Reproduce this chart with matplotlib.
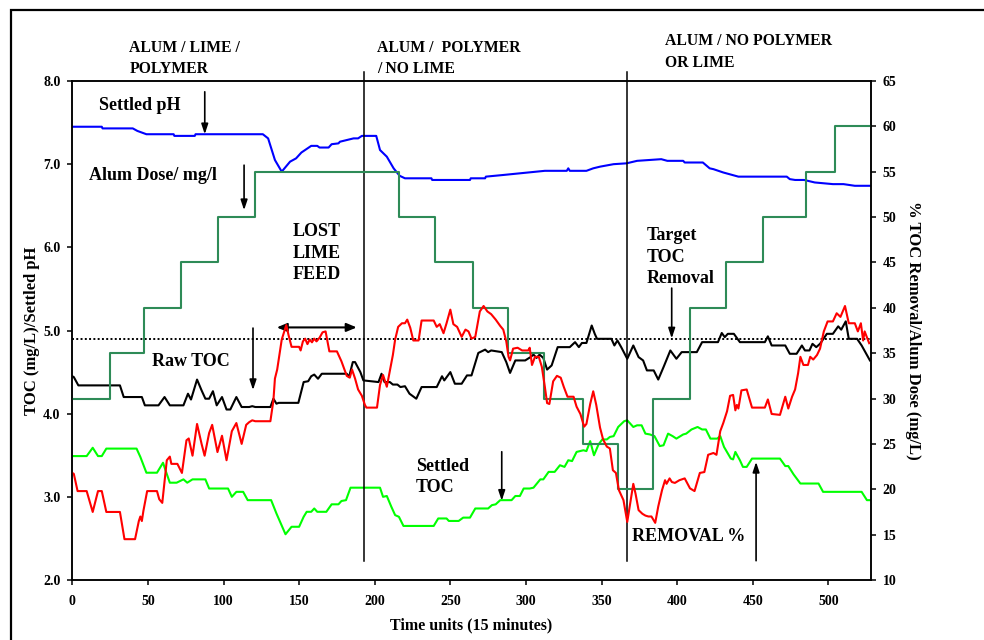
import matplotlib.pyplot as plt
from matplotlib.patches import Rectangle
from matplotlib.ticker import FormatStrFormatter, MultipleLocator

plt.rcParams['font.family'] = ['Liberation Serif', 'DejaVu Serif']
plt.rcParams['font.weight'] = 'bold'
plt.rcParams['axes.labelweight'] = 'bold'

# Raw TOC (mg/L), black
raw_t = [0, 1, 4, 31.5, 34, 46, 48, 57, 61, 64.5, 73.5, 76.5, 78.5, 82.5, 85.5, 88, 90.5, 93, 95.5,
         99, 102, 104.5, 108.5, 112, 117, 119, 121, 131, 133, 135, 136.5, 149.5, 153, 156, 158, 160,
         162.5, 165, 181.5, 183, 185.5, 187, 190.5, 192.5, 202.5, 204.5, 206.5, 210, 212, 215, 217,
         220, 223, 227.5, 231, 241, 244.5, 246, 250, 253, 257.5, 261, 264, 268.5, 273, 275, 277, 284,
         287, 289.5, 293, 299.5, 303, 305, 307, 309, 311.5, 314, 317, 321, 329, 332.5, 335, 337, 340,
         343.5, 345.5, 347, 356.5, 358.5, 360.5, 363, 367, 371, 374.5, 377.5, 380, 384.5, 387.5, 391,
         395.5, 399.5, 403, 413, 416.5, 427, 429.5, 431.5, 433.5, 437.5, 441.5, 458, 460, 462.5,
         471.5, 474.5, 479, 482.5, 484.5, 487.5, 489.5, 492, 494.5, 499, 503, 506.5, 508.5, 511.5,
         513.5, 519, 522, 527.5]
raw_toc = [4.45, 4.44, 4.34, 4.34, 4.20, 4.20, 4.10, 4.10, 4.20, 4.10, 4.10, 4.24, 4.17, 4.41, 4.28,
           4.18, 4.18, 4.27, 4.10, 4.20, 4.05, 4.05, 4.20, 4.08, 4.08, 4.09, 4.08, 4.08, 4.18, 4.12,
           4.13, 4.13, 4.38, 4.39, 4.45, 4.47, 4.42, 4.48, 4.48, 4.44, 4.62, 4.62, 4.50, 4.40, 4.38,
           4.48, 4.38, 4.38, 4.35, 4.35, 4.32, 4.33, 4.24, 4.18, 4.32, 4.32, 4.45, 4.40, 4.50, 4.36,
           4.36, 4.46, 4.46, 4.73, 4.77, 4.74, 4.76, 4.74, 4.62, 4.49, 4.64, 4.64, 4.68, 4.71, 4.67,
           4.71, 4.67, 4.53, 4.58, 4.80, 4.80, 4.86, 4.80, 4.85, 4.85, 5.06, 4.96, 4.90, 4.90, 4.82,
           4.88, 4.80, 4.66, 4.82, 4.68, 4.64, 4.52, 4.52, 4.41, 4.56, 4.76, 4.66, 4.74, 4.74, 4.86,
           4.86, 4.97, 4.92, 4.96, 4.96, 4.86, 4.86, 4.93, 4.82, 4.82, 4.72, 4.72, 4.82, 4.76, 4.76,
           4.84, 4.80, 4.84, 4.96, 4.96, 5.05, 5.01, 5.11, 4.90, 4.90, 4.82, 4.64]

# Settled TOC (mg/L), bright green
set_t = [0, 9.5, 13.5, 17, 19.5, 22.5, 42.5, 45, 49, 56, 60, 62, 64.5, 69, 73.5, 76, 79.5, 88, 90.5,
         103, 105.5, 108.5, 113, 116, 131.5, 135, 141, 145, 150, 153, 155, 158, 160, 162, 168, 171.5,
         176, 178, 181, 184, 203.5, 205.5, 208, 211, 213.5, 216, 219, 239, 242, 247.5, 249, 255.5,
         258.5, 263, 266.5, 275, 277.5, 280, 283, 290.5, 293, 296, 298.5, 302.5, 305, 309.5, 311.5,
         315, 319, 322.5, 325.5, 328, 330.5, 333.5, 338, 340, 342.5, 345, 348, 350.5, 353.5, 355.5,
         358, 361, 365, 367, 369, 371, 373.5, 376.5, 379, 382, 385, 388.5, 391, 394, 397, 399.5, 404,
         406, 409.5, 413.5, 416.5, 419, 422, 426.5, 428.5, 431, 435.5, 437, 438.5, 441.5, 443.5, 446,
         449.5, 468, 471.5, 473.5, 477, 481.5, 493.5, 496.5, 522, 525.5, 528]
settled_toc = [3.49, 3.49, 3.59, 3.49, 3.49, 3.58, 3.58, 3.48, 3.29, 3.29, 3.41, 3.30, 3.17, 3.17,
               3.21, 3.17, 3.21, 3.21, 3.10, 3.10, 3.00, 3.06, 3.06, 2.96, 2.96, 2.80, 2.55, 2.64,
               2.64, 2.76, 2.82, 2.82, 2.86, 2.82, 2.82, 2.91, 2.91, 2.95, 2.96, 3.11, 3.11, 3.00,
               3.01, 2.88, 2.78, 2.76, 2.65, 2.65, 2.74, 2.74, 2.71, 2.71, 2.75, 2.75, 2.86, 2.86,
               2.90, 2.91, 2.96, 2.96, 3.01, 3.01, 3.10, 3.10, 3.11, 3.21, 3.21, 3.30, 3.30, 3.38,
               3.36, 3.44, 3.43, 3.54, 3.56, 3.55, 3.67, 3.50, 3.63, 3.69, 3.69, 3.72, 3.73, 3.84,
               3.91, 3.92, 3.88, 3.84, 3.86, 3.86, 3.76, 3.75, 3.73, 3.61, 3.62, 3.76, 3.73, 3.70,
               3.75, 3.76, 3.81, 3.84, 3.81, 3.81, 3.70, 3.70, 3.73, 3.60, 3.46, 3.45, 3.54, 3.44,
               3.36, 3.36, 3.46, 3.46, 3.37, 3.37, 3.27, 3.16, 3.16, 3.06, 3.06, 2.96, 2.96]

# Settled pH, blue
ph_t = [0, 19.5, 20, 40, 43, 49, 67, 67.5, 81, 81.5, 126, 129.5, 134, 138.5, 144, 148, 151.5, 158,
        162, 163.5, 169.5, 171.5, 176, 177, 181.5, 186, 189, 191.5, 201, 203.5, 208, 212.5, 216.5,
        220, 237.5, 238, 263, 263.5, 273, 273.5, 285, 296, 312.5, 327, 328, 329, 340, 344.5, 349,
        358, 366.5, 373.5, 389.5, 393.5, 404, 405, 417, 421.5, 424, 430.5, 440.5, 472.5, 474.5,
        478, 484, 491, 503, 510, 517.5, 528]
settled_ph = [7.45, 7.45, 7.43, 7.43, 7.40, 7.36, 7.36, 7.34, 7.34, 7.36, 7.36, 7.31, 7.05, 6.91,
              7.03, 7.07, 7.14, 7.22, 7.22, 7.20, 7.20, 7.24, 7.25, 7.27, 7.29, 7.31, 7.31, 7.34,
              7.34, 7.17, 7.09, 6.95, 6.86, 6.83, 6.83, 6.81, 6.81, 6.83, 6.83, 6.85, 6.87, 6.89,
              6.92, 6.92, 6.95, 6.92, 6.92, 6.95, 6.97, 7.00, 7.01, 7.04, 7.06, 7.04, 7.04, 7.02,
              7.02, 6.95, 6.94, 6.90, 6.85, 6.85, 6.82, 6.81, 6.81, 6.78, 6.76, 6.76, 6.74, 6.74]

# TOC removal (%), red
rem_t = [0, 1, 3.5, 9.5, 13.5, 17, 19.5, 22.5, 31.5, 34.5, 41.5, 44, 45, 46, 47, 49.5, 56, 57.5,
         59.5, 62.5, 64.5, 65.5, 69.5, 72.5, 75.5, 77, 79.5, 82.5, 85.5, 87.5, 90.5, 92.5, 96, 99,
         102, 105.5, 108.5, 112, 115, 117, 119, 121, 131, 133, 134, 135.5, 138.5, 141.5, 143, 145,
         150, 151, 152.5, 154, 155.5, 157, 158.5, 160, 161.5, 163.5, 165.5, 167.5, 170, 175, 178,
         181.5, 183.5, 185, 187, 189, 191.5, 193.5, 194.5, 201.5, 203.5, 205.5, 208, 209.5, 212,
         213.5, 215.5, 218, 220, 221.5, 223.5, 225.5, 229, 231, 239, 241, 243, 245.5, 247.5, 250,
         252, 254.5, 257.5, 260, 262, 264, 266.5, 269.5, 272, 274.5, 277, 280, 283, 285, 287, 288.5,
         289.5, 291.5, 294.5, 297.5, 301.5, 302.5, 304, 306, 308.5, 310.5, 312.5, 314, 315.5, 318,
         320.5, 323, 325, 327.5, 331.5, 333.5, 336, 338.5, 340, 342.5, 344.5, 346.5, 349, 351,
         353.5, 355.5, 357.5, 359.5, 361.5, 364.5, 367, 369, 371, 372.5, 374.5, 377, 379, 381, 383,
         385.5, 387.5, 390, 392, 393, 395, 396.5, 398.5, 401.5, 405, 408.5, 411.5, 415, 418, 420.5,
         424, 426, 428.5, 430.5, 433, 435, 437, 438.5, 439.5, 440.5, 442.5, 446, 449.5, 458, 460,
         462.5, 468, 471.5, 473.5, 476, 478, 480, 481.5, 483.5, 486.5, 488, 490, 492.5, 494.5, 497,
         499.5, 503, 505.5, 508, 511, 513.5, 517.5, 519.5, 521.5, 523, 524, 527]
removal = [21.8, 21.7, 19.8, 19.8, 17.5, 19.8, 19.8, 17.5, 17.5, 14.5, 14.5, 16.5, 17.0, 16.5, 17.6,
           19.8, 19.8, 18.9, 18.5, 23.2, 23.6, 22.8, 22.8, 21.8, 25.4, 25.6, 23.7, 27.2, 25.0,
           23.7, 26.2, 27.1, 24.1, 25.9, 23.2, 26.4, 27.3, 25.0, 27.1, 27.4, 27.6, 27.5, 27.5,
           29.8, 32.2, 33.2, 36.5, 38.1, 37.0, 35.7, 35.7, 35.3, 36.3, 36.6, 36.0, 36.5, 36.2,
           36.6, 36.3, 36.7, 37.3, 37.4, 35.2, 35.2, 34.1, 32.5, 32.3, 33.2, 32.2, 31.0, 30.3,
           29.3, 29.0, 29.0, 31.5, 32.6, 31.3, 32.6, 34.8, 36.5, 37.9, 38.3, 38.3, 38.7, 37.8,
           36.4, 36.4, 38.6, 38.6, 37.9, 38.2, 37.2, 38.3, 39.8, 38.2, 37.9, 36.8, 37.6, 37.4,
           36.6, 36.8, 39.6, 40.2, 39.6, 39.3, 38.7, 38.0, 37.6, 36.3, 34.6, 34.2, 35.5, 35.6,
           35.3, 35.3, 35.6, 33.7, 34.6, 34.6, 33.5, 31.3, 29.5, 29.4, 31.9, 32.5, 32.3, 31.3,
           30.2, 30.2, 29.1, 28.3, 26.9, 27.2, 29.4, 30.8, 29.3, 26.8, 25.5, 24.7, 24.5, 22.1,
           21.8, 19.9, 18.8, 16.4, 18.5, 20.6, 19.5, 17.7, 17.3, 17.1, 17.0, 17.0, 16.3, 18.1,
           19.9, 21.0, 20.6, 21.2, 20.8, 20.7, 21.0, 21.2, 20.1, 19.8, 21.8, 21.9, 23.8, 24.0,
           23.8, 26.4, 27.3, 28.6, 30.3, 30.4, 28.7, 29.3, 28.9, 30.9, 31.0, 29.0, 29.0, 29.9,
           28.3, 28.2, 30.2, 28.9, 30.2, 31.0, 32.8, 34.6, 33.7, 33.7, 34.6, 34.3, 34.8, 35.5,
           37.4, 38.5, 38.5, 39.4, 39.0, 40.2, 38.3, 38.3, 37.4, 38.3, 36.4, 37.4, 36.1]

# Alum dose (mg/L), stepped
alum_t = [0, 25, 47.5, 72, 96.5, 121, 216, 240, 265, 288, 312, 338, 361, 384, 408.5, 432, 457,
          485, 504.5, 528]
alum_dose = [30, 35, 40, 45, 50, 55, 50, 45, 40, 35, 30, 25, 20, 30, 40, 45, 50, 55, 60, 60]

target_toc = 4.9
phase_change_t = [193, 367]

fig = plt.figure(figsize=(9.84, 6.4), dpi=100)
ax = fig.add_axes([72.3 / 984, 1 - 580 / 640, 798.4 / 984, 499 / 640])
ax2 = ax.twinx()

ax.plot(ph_t, settled_ph, color="#0000ff", lw=1.5)
ax.plot(raw_t, raw_toc, color="black", lw=1.5)
ax.plot(set_t, settled_toc, color="#00ff00", lw=1.5)
ax.axhline(target_toc, color="black", lw=1.4, ls=(0, (1, 1.2)))
ax2.plot(alum_t, alum_dose, color="#2e8b57", lw=1.5, drawstyle="steps-post")
ax2.plot(rem_t, removal, color="#ff0000", lw=1.5)

for t in phase_change_t:
    ax.plot([t, t], [2.23, 8.11], color="black", lw=1.1, clip_on=False)

ax.set_xlim(0, 528)
ax.set_ylim(2, 8)
ax2.set_ylim(10, 65)
ax.xaxis.set_major_locator(MultipleLocator(50))
ax.yaxis.set_major_locator(MultipleLocator(1))
ax.yaxis.set_major_formatter(FormatStrFormatter("%.1f"))
ax2.yaxis.set_major_locator(MultipleLocator(5))

for a in (ax, ax2):
    for s in a.spines.values():
        s.set_linewidth(1.1)
    a.tick_params(direction="out", length=3.5, width=1.1, labelsize=10, pad=5)
ax.tick_params(axis="x", pad=7)

ax.set_xlabel("Time units (15 minutes)", fontsize=11.5)
ax.xaxis.set_label_coords(0.5, -0.074)
ax.set_ylabel("TOC (mg/L)/Settled pH", fontsize=12)
ax.yaxis.set_label_coords(-0.041, 0.5)
ax2.set_ylabel("% TOC Removal/Alum Dose (mg/L)", fontsize=12, rotation=-90, va="center")
ax2.yaxis.set_label_coords(1.053, 0.5)

# Phase headings above the plot
head = dict(fontsize=11.3, ha="left", va="top", linespacing=1.45)
ax.text(37.7, 8.495, "ALUM / LIME /\nPOLYMER", **head)
ax.text(201.7, 8.495, "ALUM /  POLYMER\n/ NO LIME", **head)
ax.text(392.2, 8.575, "ALUM / NO POLYMER\nOR LIME", **head)

# Labels inside the plot
lab = dict(fontsize=13, ha="left", va="top", linespacing=1.35)
ax.text(17.9, 7.805, "Settled pH", **lab)
ax.text(11, 6.962, "Alum Dose/ mg/l", **lab)
ax.text(145.8, 6.29, "LOST\nLIME\nFEED", **lab)
ax.text(52.9, 4.734, "Raw TOC", **lab)
ax.text(227.3, 3.472, "Settled\nTOC", **lab)
ax.text(379.9, 6.245, "Target\nTOC\nRemoval", **lab)
ax.text(370, 2.62, "REMOVAL %", **lab)

arrow = dict(arrowstyle="-|>,head_length=0.6,head_width=0.2", color="black", lw=1.2,
             shrinkA=0, shrinkB=0)
ax.annotate("", xy=(87.6, 7.36), xytext=(87.6, 7.87), arrowprops=arrow)
ax.annotate("", xy=(113.6, 6.447), xytext=(113.6, 6.988), arrowprops=arrow)
ax.annotate("", xy=(119.5, 4.284), xytext=(119.5, 5.029), arrowprops=arrow)
ax.annotate("", xy=(284, 2.953), xytext=(284, 3.542), arrowprops=arrow)
ax.annotate("", xy=(396.4, 4.905), xytext=(396.4, 5.51), arrowprops=arrow)
ax.annotate("", xy=(452.2, 3.42), xytext=(452.2, 2.232), arrowprops=arrow)
ax.annotate("", xy=(135.2, 5.037), xytext=(188.1, 5.037),
            arrowprops=dict(arrowstyle="<|-|>,head_length=0.6,head_width=0.25", color="black",
                            lw=1.5, shrinkA=0, shrinkB=0))

# Outer frame running off the page
fig.patches.append(Rectangle((11 / 984, -0.1), 1.2, 1.1 - 10 / 640, transform=fig.transFigure,
                             fill=False, lw=1.6, edgecolor="black"))

fig.savefig("out.png", dpi=100)
